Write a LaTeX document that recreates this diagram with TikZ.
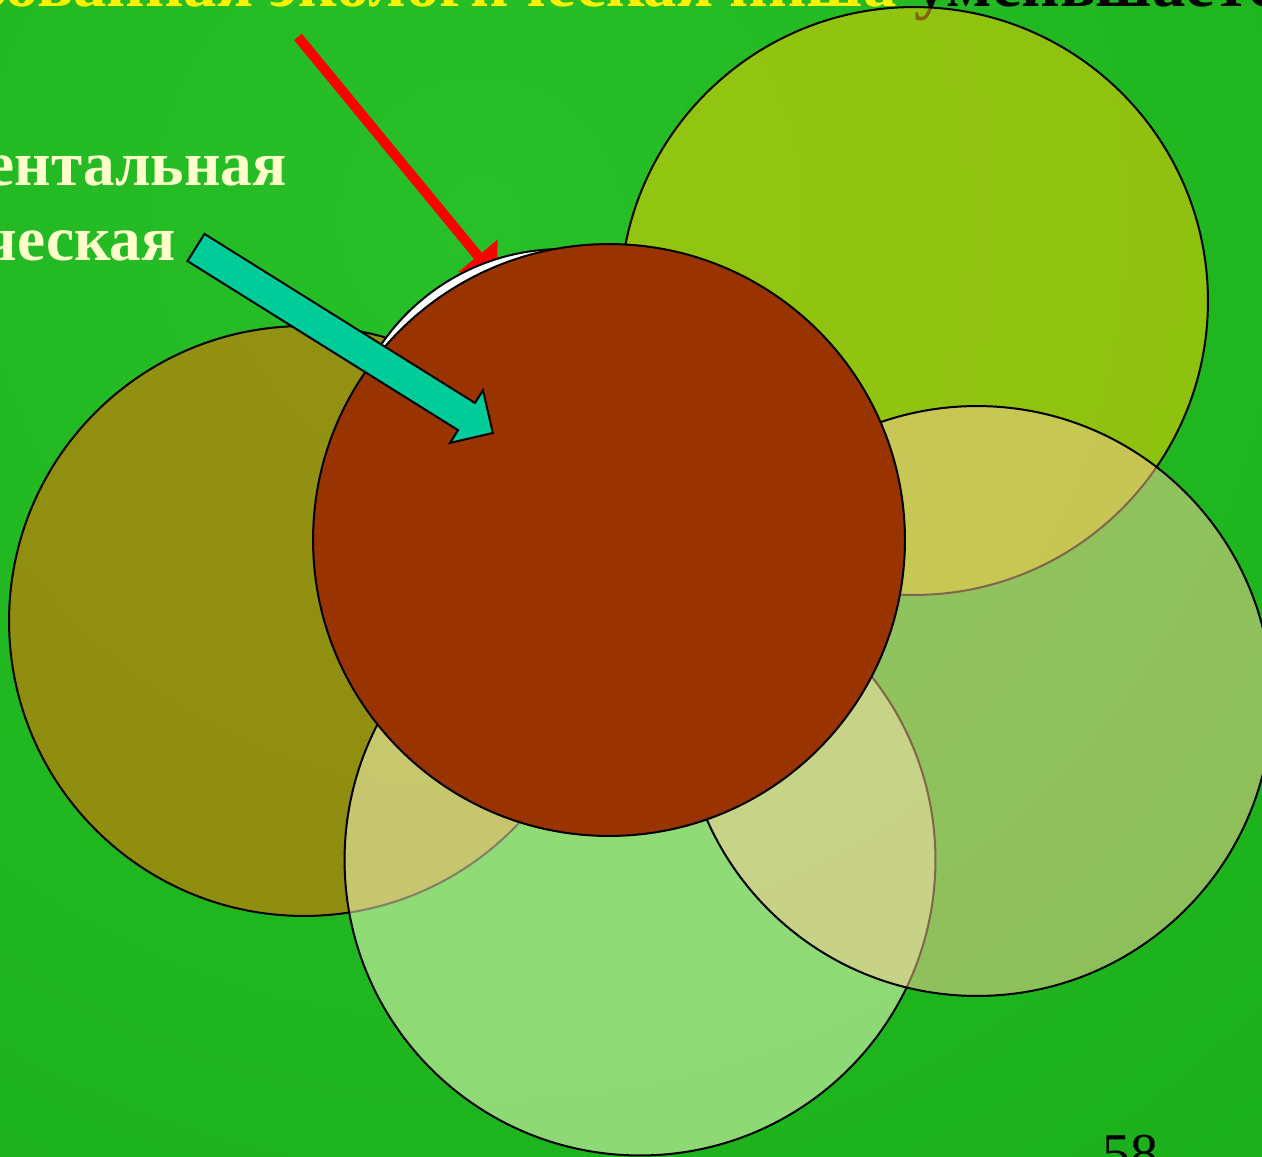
\documentclass[tikz,border=0pt]{standalone}
\usepackage{fontspec}
\setmainfont{Liberation Serif}
\usetikzlibrary{arrows.meta, positioning}

\definecolor{bgin}{RGB}{40,192,40}
\definecolor{bgout}{RGB}{12,158,12}
\definecolor{sun}{HTML}{FFCC00}
\definecolor{peach}{HTML}{FFCC99}
\definecolor{rust}{HTML}{FF6600}
\definecolor{cream}{HTML}{FFFFCC}
\definecolor{brown}{HTML}{993300}
\definecolor{sea}{HTML}{00CC99}

\begin{document}
\begin{tikzpicture}[
    x=0.02cm, y=-0.02cm,
    disc/.style={circle, draw=black, line width=0.04cm, inner sep=0pt, fill opacity=0.5},
    toptext/.style={inner sep=0pt, font=\fontsize{38}{44}\selectfont\bfseries},
    sidetext/.style={inner sep=0pt, text=cream, font=\fontsize{36}{42}\selectfont\bfseries},
    redarrow/.style={draw=red, line width=0.2cm, -{Triangle[length=0.6cm, width=0.98cm]}},
    seaarrow/.style={draw=black, line width=0.04cm, fill=sea, line join=miter}
]

\useasboundingbox (0,0) rectangle (1262,1157);
\clip (0,0) rectangle (1262,1157);
\shade[inner color=bgin, outer color=bgout] (480,220) circle (52cm);

% Texts
\node[toptext, text=yellow, anchor=base east] (nicheA) at (897,6) {изованная экологическая ниша};
\node[toptext, anchor=base west] (nicheB) at (914,6) {уменьшается};
\node[sidetext, anchor=base east] (fundA) at (287,185) {ентальная};
\node[sidetext, anchor=base east] (fundB) at (176,260) {ческая};
\node[inner sep=0pt, font=\fontsize{32}{38}\selectfont, anchor=base west] (page) at (1102,1172) {58};

% Niche circles
\node[disc, fill=sun, minimum size=11.76cm] (ntop) at (914,301) {};
\node[disc, fill=rust, minimum size=11.8cm] (nleft) at (304,621) {};
\node[disc, fill=cream, minimum size=11.82cm] (nbottom) at (640,860) {};
\node[disc, fill=peach, minimum size=11.8cm] (nright) at (977,701) {};

\coordinate (redtail) at (298,37);
\coordinate (redtip) at (497,279);
\draw[redarrow] (redtail) -- (redtip);

% Centre
\node[circle, draw=black, line width=0.04cm, fill=white, minimum size=8.76cm] (shadow) at (562,468) {};
\node[circle, draw=black, line width=0.04cm, fill=brown, minimum size=11.84cm] (core) at (609,540) {};

\coordinate (seatail) at (196,247.5);
\begin{scope}[shift={(seatail)}, rotate=-32]
  \draw[seaarrow] (0,-16) -- (319,-16) -- (319,-31) -- (350,0) -- (319,31) -- (319,16) -- (0,16) -- cycle;
\end{scope}

\end{tikzpicture}
\end{document}
